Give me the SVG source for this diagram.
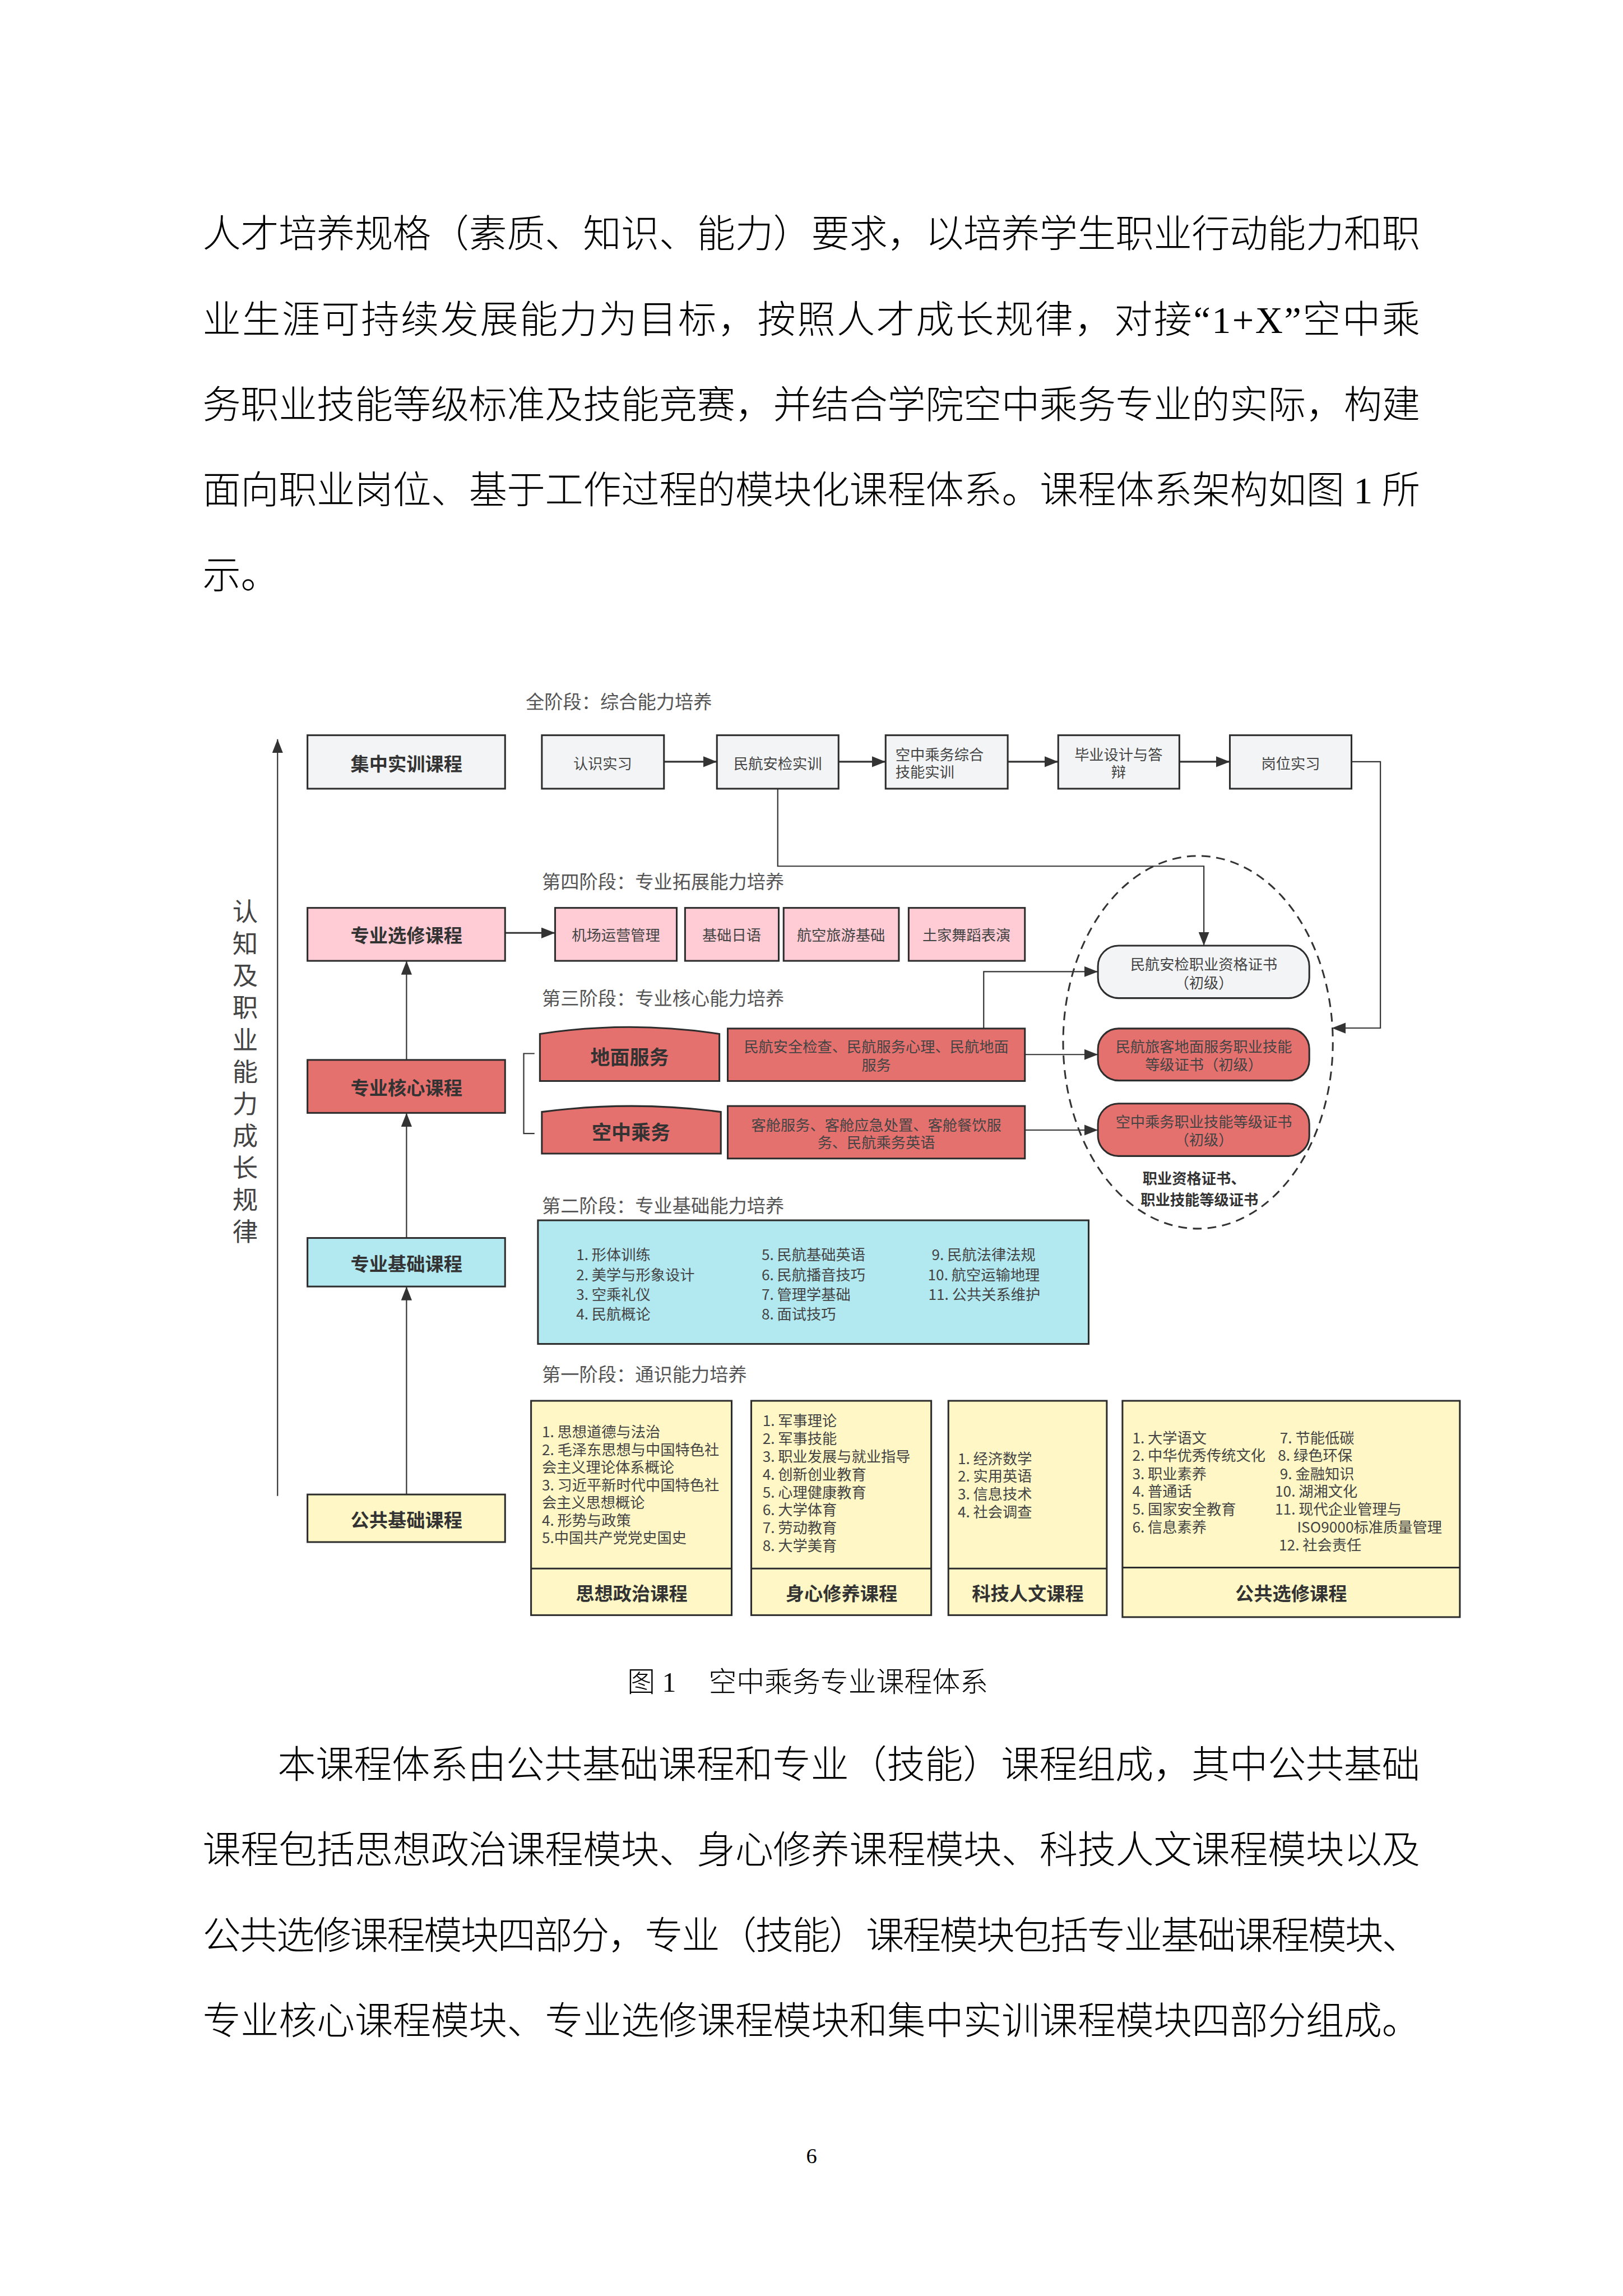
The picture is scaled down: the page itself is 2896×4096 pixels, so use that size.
<svg xmlns="http://www.w3.org/2000/svg" width="2896" height="4096" viewBox="0 0 2896 4096">
<style>
.body{font-family:"Liberation Serif","Noto Sans CJK SC",serif;font-size:78px;fill:#000;font-weight:300}
.t{font-family:"Noto Sans CJK SC","Noto Sans",sans-serif;fill:#444;font-size:30px}
.c{text-anchor:middle}
.b{font-weight:700;fill:#333;font-size:38px}
.stage{font-family:"Noto Sans CJK SC",sans-serif;fill:#555;font-size:38px}
.box{stroke:#2d2d2d;stroke-width:3.5}
.gray{fill:#F3F4F6}
.pink{fill:#FFCCD5}
.red{fill:#E5716F}
.cyan{fill:#B2E8F0}
.yel{fill:#FFF8C6}
.conn{stroke:#333;fill:none;stroke-width:2.5}
.thick{stroke-width:3.5}
</style>
<defs>
<marker id="ah" markerUnits="userSpaceOnUse" markerWidth="30" markerHeight="22" refX="28" refY="11" orient="auto">
<path d="M0,0 L28,11 L0,22 z" fill="#333"/>
</marker>
</defs>
<rect x="0" y="0" width="2896" height="4096" fill="#fff"/>
<g transform="scale(0.875)">
<!-- body paragraph -->
<g id="para1" dominant-baseline="central">
<text class="body" x="413" y="478" textLength="2483" lengthAdjust="spacing">人才培养规格（素质、知识、能力）要求，以培养学生职业行动能力和职</text>
<text class="body" x="413" y="652" textLength="2483" lengthAdjust="spacing">业生涯可持续发展能力为目标，按照人才成长规律，对接“1+X”空中乘</text>
<text class="body" x="413" y="826" textLength="2483" lengthAdjust="spacing">务职业技能等级标准及技能竞赛，并结合学院空中乘务专业的实际，构建</text>
<text class="body" x="413" y="1000" textLength="2483" lengthAdjust="spacing">面向职业岗位、基于工作过程的模块化课程体系。课程体系架构如图 1 所</text>
<text class="body" x="413" y="1174">示。</text>
</g>

<g id="connectors">
<path class="conn thick" d="M1354,1553 H1462" marker-end="url(#ah)"/>
<path class="conn thick" d="M1710,1553 H1806" marker-end="url(#ah)"/>
<path class="conn thick" d="M2055,1553 H2158" marker-end="url(#ah)"/>
<path class="conn thick" d="M2405,1553 H2508" marker-end="url(#ah)"/>
<path class="conn" d="M2756,1553 H2815 V2096 H2716" marker-end="url(#ah)"/>
<path class="conn" d="M1586,1608 V1766 H2455 V1928" marker-end="url(#ah)"/>
<path class="conn" d="M2006,2097 V1981 H2239" marker-end="url(#ah)"/>
<path class="conn" d="M2090,2150 H2239" marker-end="url(#ah)"/>
<path class="conn" d="M2090,2304 H2239" marker-end="url(#ah)"/>
<path class="conn thick" d="M1030,1902 H1132" marker-end="url(#ah)"/>
<path class="conn" d="M829,3047 V2623" marker-end="url(#ah)"/>
<path class="conn" d="M829,2524 V2269" marker-end="url(#ah)"/>
<path class="conn" d="M829,2161 V1959" marker-end="url(#ah)"/>
<path class="conn" d="M566,3050 V1507" marker-end="url(#ah)"/>
<path class="conn" d="M1090,2148 H1068 V2311 H1090"/>
</g>

<g id="growth-label">
<text class="t" style="font-size:52px;writing-mode:vertical-rl;letter-spacing:13.3px" x="500" y="1832">认知及职业能力成长规律</text>
</g>

<g id="stage-titles" dominant-baseline="central">
<text class="stage" x="1072" y="1428">全阶段：综合能力培养</text>
<text class="stage" x="1105" y="1795">第四阶段：专业拓展能力培养</text>
<text class="stage" x="1105" y="2033">第三阶段：专业核心能力培养</text>
<text class="stage" x="1105" y="2455">第二阶段：专业基础能力培养</text>
<text class="stage" x="1105" y="2799">第一阶段：通识能力培养</text>
</g>

<!-- top row -->
<g id="n-jizhong"><rect class="box gray" x="627" y="1499" width="403" height="109"/><text class="t c b" x="829" y="1555" dominant-baseline="central">集中实训课程</text></g>
<g id="n-renshi"><rect class="box gray" x="1105" y="1499" width="249" height="109"/><text class="t c" x="1229" y="1555" dominant-baseline="central">认识实习</text></g>
<g id="n-anjian"><rect class="box gray" x="1462" y="1499" width="248" height="109"/><text class="t c" x="1586" y="1555" dominant-baseline="central">民航安检实训</text></g>
<g id="n-zonghe"><rect class="box gray" x="1806" y="1499" width="249" height="109"/><text class="t" x="1826" y="1537" dominant-baseline="central">空中乘务综合</text><text class="t" x="1826" y="1572" dominant-baseline="central">技能实训</text></g>
<g id="n-biye"><rect class="box gray" x="2158" y="1499" width="247" height="109"/><text class="t c" x="2281" y="1537" dominant-baseline="central">毕业设计与答</text><text class="t c" x="2281" y="1572" dominant-baseline="central">辩</text></g>
<g id="n-gangwei"><rect class="box gray" x="2508" y="1499" width="248" height="109"/><text class="t c" x="2632" y="1555" dominant-baseline="central">岗位实习</text></g>

<!-- stage 4 -->
<g id="n-xuanxiu"><rect class="box pink" x="627" y="1851" width="403" height="108"/><text class="t c b" x="829" y="1905" dominant-baseline="central">专业选修课程</text></g>
<g id="n-jichang"><rect class="box pink" x="1132" y="1851" width="248" height="108"/><text class="t c" x="1256" y="1905" dominant-baseline="central">机场运营管理</text></g>
<g id="n-riyu"><rect class="box pink" x="1397" y="1851" width="191" height="108"/><text class="t c" x="1492" y="1905" dominant-baseline="central">基础日语</text></g>
<g id="n-lvyou"><rect class="box pink" x="1598" y="1851" width="235" height="108"/><text class="t c" x="1715" y="1905" dominant-baseline="central">航空旅游基础</text></g>
<g id="n-wudao"><rect class="box pink" x="1853" y="1851" width="237" height="108"/><text class="t c" x="1971" y="1905" dominant-baseline="central">土家舞蹈表演</text></g>

<!-- stage 3 -->
<g id="n-hexin"><rect class="box red" x="627" y="2161" width="403" height="108"/><text class="t c b" x="829" y="2215" dominant-baseline="central">专业核心课程</text></g>
<g id="n-dimian"><path class="box red" d="M1101,2204 V2108 Q1284,2080 1467,2108 V2204 Z"/><text class="t c b" style="font-size:40px" x="1284" y="2152" dominant-baseline="central">地面服务</text></g>
<g id="n-kongcheng"><path class="box red" d="M1105,2352 V2267 Q1288,2243 1470,2267 V2352 Z"/><text class="t c b" style="font-size:40px" x="1287" y="2306" dominant-baseline="central">空中乘务</text></g>
<g id="n-dimian-courses"><rect class="box red" x="1484" y="2097" width="606" height="107"/><text class="t c" x="1787" y="2132" dominant-baseline="central">民航安全检查、民航服务心理、民航地面</text><text class="t c" x="1787" y="2170" dominant-baseline="central">服务</text></g>
<g id="n-kongcheng-courses"><rect class="box red" x="1484" y="2255" width="606" height="107"/><text class="t c" x="1787" y="2292" dominant-baseline="central">客舱服务、客舱应急处置、客舱餐饮服</text><text class="t c" x="1787" y="2328" dominant-baseline="central">务、民航乘务英语</text></g>

<!-- certificates -->
<g id="n-certs-group"><ellipse cx="2443" cy="2125" rx="275" ry="380" fill="none" stroke="#333" stroke-width="3.5" stroke-dasharray="18 12"/><text class="t c" style="font-weight:700;fill:#333" x="2435" y="2401" dominant-baseline="central">职业资格证书、</text><text class="t c" style="font-weight:700;fill:#333" x="2446" y="2445" dominant-baseline="central">职业技能等级证书</text></g>
<g id="n-cert1"><rect class="box gray" x="2239" y="1928" width="431" height="107" rx="42"/><text class="t c" x="2455" y="1964" dominant-baseline="central">民航安检职业资格证书</text><text class="t c" x="2455" y="2002" dominant-baseline="central">（初级）</text></g>
<g id="n-cert2"><rect class="box red" x="2239" y="2097" width="431" height="106" rx="42"/><text class="t c" x="2455" y="2133" dominant-baseline="central">民航旅客地面服务职业技能</text><text class="t c" x="2455" y="2169" dominant-baseline="central">等级证书（初级）</text></g>
<g id="n-cert3"><rect class="box red" x="2239" y="2250" width="431" height="107" rx="42"/><text class="t c" x="2455" y="2286" dominant-baseline="central">空中乘务职业技能等级证书</text><text class="t c" x="2455" y="2322" dominant-baseline="central">（初级）</text></g>

<!-- stage 2 -->
<g id="n-jichu"><rect class="box cyan" x="627" y="2524" width="403" height="99"/><text class="t c b" x="829" y="2574" dominant-baseline="central">专业基础课程</text></g>
<g id="n-jichu-courses"><rect class="box cyan" x="1097" y="2488" width="1123" height="252"/>
<g dominant-baseline="central">
<text class="t" x="1175" y="2557">1. 形体训练</text>
<text class="t" x="1175" y="2598">2. 美学与形象设计</text>
<text class="t" x="1175" y="2638">3. 空乘礼仪</text>
<text class="t" x="1175" y="2678">4. 民航概论</text>
<text class="t" x="1553" y="2557">5. 民航基础英语</text>
<text class="t" x="1553" y="2598">6. 民航播音技巧</text>
<text class="t" x="1553" y="2638">7. 管理学基础</text>
<text class="t" x="1553" y="2678">8. 面试技巧</text>
<text class="t" x="1900" y="2557">9. 民航法律法规</text>
<text class="t" x="1892" y="2598">10. 航空运输地理</text>
<text class="t" x="1893" y="2638">11. 公共关系维护</text>
</g></g>

<!-- stage 1 -->
<g id="n-gonggong"><rect class="box yel" x="627" y="3047" width="403" height="97"/><text class="t c b" x="829" y="3097" dominant-baseline="central">公共基础课程</text></g>
<g id="n-sizheng"><rect class="box yel" x="1083" y="2856" width="409" height="437"/><line class="box" x1="1083" y1="3198" x2="1492" y2="3198"/>
<g dominant-baseline="central">
<text class="t" x="1105" y="2918">1. 思想道德与法治</text>
<text class="t" x="1105" y="2954">2. 毛泽东思想与中国特色社</text>
<text class="t" x="1105" y="2990">会主义理论体系概论</text>
<text class="t" x="1105" y="3026">3. 习近平新时代中国特色社</text>
<text class="t" x="1105" y="3062">会主义思想概论</text>
<text class="t" x="1105" y="3098">4. 形势与政策</text>
<text class="t" x="1105" y="3134">5.中国共产党党史国史</text>
<text class="t c b" x="1288" y="3246">思想政治课程</text>
</g></g>
<g id="n-shenxin"><rect class="box yel" x="1532" y="2856" width="367" height="437"/><line class="box" x1="1532" y1="3198" x2="1899" y2="3198"/>
<g dominant-baseline="central">
<text class="t" x="1555" y="2895">1. 军事理论</text>
<text class="t" x="1555" y="2931">2. 军事技能</text>
<text class="t" x="1555" y="2968">3. 职业发展与就业指导</text>
<text class="t" x="1555" y="3004">4. 创新创业教育</text>
<text class="t" x="1555" y="3041">5. 心理健康教育</text>
<text class="t" x="1555" y="3077">6. 大学体育</text>
<text class="t" x="1555" y="3113">7. 劳动教育</text>
<text class="t" x="1555" y="3150">8. 大学美育</text>
<text class="t c b" x="1716" y="3246">身心修养课程</text>
</g></g>
<g id="n-keji"><rect class="box yel" x="1934" y="2856" width="323" height="437"/><line class="box" x1="1934" y1="3198" x2="2257" y2="3198"/>
<g dominant-baseline="central">
<text class="t" x="1953" y="2972">1. 经济数学</text>
<text class="t" x="1953" y="3008">2. 实用英语</text>
<text class="t" x="1953" y="3045">3. 信息技术</text>
<text class="t" x="1953" y="3081">4. 社会调查</text>
<text class="t c b" x="2096" y="3246">科技人文课程</text>
</g></g>
<g id="n-gongxuan"><rect class="box yel" x="2289" y="2856" width="688" height="441"/><line class="box" x1="2289" y1="3196" x2="2977" y2="3196"/>
<g dominant-baseline="central">
<text class="t" x="2309" y="2930">1. 大学语文</text>
<text class="t" x="2309" y="2966">2. 中华优秀传统文化</text>
<text class="t" x="2309" y="3003">3. 职业素养</text>
<text class="t" x="2309" y="3039">4. 普通话</text>
<text class="t" x="2309" y="3075">5. 国家安全教育</text>
<text class="t" x="2309" y="3112">6. 信息素养</text>
<text class="t" x="2610" y="2930">7. 节能低碳</text>
<text class="t" x="2606" y="2966">8. 绿色环保</text>
<text class="t" x="2610" y="3003">9. 金融知识</text>
<text class="t" x="2600" y="3039">10. 湖湘文化</text>
<text class="t" x="2600" y="3075">11. 现代企业管理与</text>
<text class="t" x="2645" y="3112">ISO9000标准质量管理</text>
<text class="t" x="2608" y="3148">12. 社会责任</text>
<text class="t c b" x="2633" y="3246">公共选修课程</text>
</g></g>

<!-- caption and following text -->
<g id="caption" dominant-baseline="central">
<text class="body" style="font-size:57px" x="1279" y="3430">图 1</text>
<text class="body" style="font-size:57px" x="1445" y="3430">空中乘务专业课程体系</text>
</g>
<g id="para2" dominant-baseline="central">
<text class="body" x="566" y="3599" textLength="2330" lengthAdjust="spacing">本课程体系由公共基础课程和专业（技能）课程组成，其中公共基础</text>
<text class="body" x="413" y="3773" textLength="2483" lengthAdjust="spacing">课程包括思想政治课程模块、身心修养课程模块、科技人文课程模块以及</text>
<text class="body" x="413" y="3947" textLength="2483" lengthAdjust="spacing">公共选修课程模块四部分，专业（技能）课程模块包括专业基础课程模块、</text>
<text class="body" x="413" y="4121" textLength="2483" lengthAdjust="spacing">专业核心课程模块、专业选修课程模块和集中实训课程模块四部分组成。</text>
</g>
<text class="body" style="font-size:44px" x="1655" y="4395" text-anchor="middle" dominant-baseline="central">6</text>
</g>
</svg>
